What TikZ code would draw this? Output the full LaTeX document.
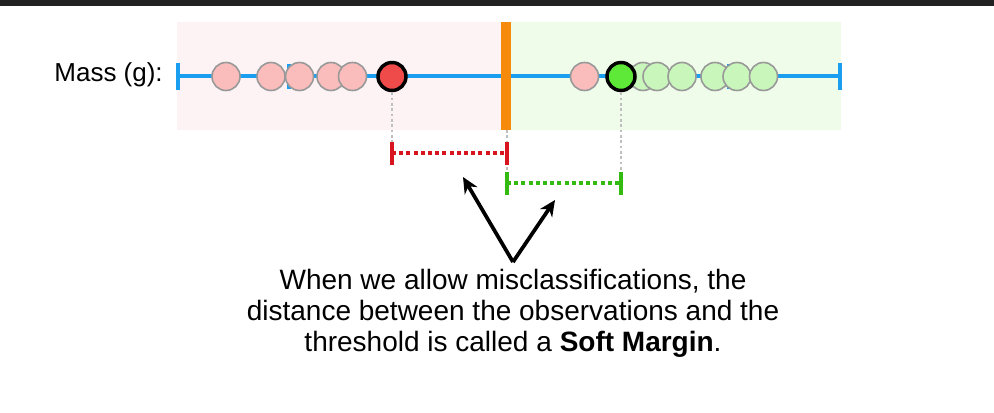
\documentclass[tikz,border=0pt]{standalone}
\usepackage{fontspec}
\setmainfont{Liberation Sans}
\usetikzlibrary{positioning,arrows.meta}
\definecolor{axisblue}{HTML}{1A9FF0}
\definecolor{threshorange}{HTML}{F58A0B}
\definecolor{bgpink}{HTML}{FDF3F4}
\definecolor{bggreen}{HTML}{EFFCEA}
\definecolor{dotpink}{HTML}{FBBCBC}
\definecolor{dotgreen}{HTML}{C9F7BB}
\definecolor{bigred}{HTML}{EF4B4B}
\definecolor{biggreen}{HTML}{5EE838}
\definecolor{marginred}{HTML}{D8141F}
\definecolor{margingreen}{HTML}{33BB11}
\definecolor{topbar}{HTML}{222222}

\begin{document}
\begin{tikzpicture}[x=0.75pt,y=-0.75pt,>={Stealth[length=12pt,width=11pt]},
  obs/.style={circle,draw=black!40,line width=1.2pt,minimum size=21pt,inner sep=0pt},
  pinkobs/.style={obs,fill=dotpink},
  greenobs/.style={obs,fill=dotgreen},
  bigobs/.style={circle,draw=black,line width=2.6pt,minimum size=21pt,inner sep=0pt},
  guide/.style={black!25,line width=1pt,dash pattern=on 2pt off 2pt},
  margin/.style={line width=3pt,dash pattern=on 3pt off 2.4pt},
  endbar/.style={line width=2.8pt},
  pointer/.style={->,line width=2.8pt}]
\useasboundingbox (0,0) rectangle (994,413);
\fill[topbar] (0,0) rectangle (994,6);
\fill[bgpink] (177,22) rectangle (505,130);
\fill[bggreen] (505,22) rectangle (841,130);

\node[anchor=east,inner sep=0pt,font=\fontsize{19.5}{23}\selectfont] (mass) at (163,75) {Mass (g):};

\coordinate (axl) at (178,76.5);
\coordinate (axr) at (840,76.5);
\draw[axisblue,line width=3pt] (axl) -- (axr);
\draw[axisblue,line width=3pt] (178,63) -- (178,90);
\draw[axisblue,line width=3pt] (840,63) -- (840,90);
\draw[axisblue,line width=3pt] (288.5,64) -- (288.5,89);
\draw[axisblue,line width=3pt] (728.5,64) -- (728.5,89);

\node[pinkobs] (r1) at (226,76.5) {};
\node[pinkobs] (r2) at (271,76.5) {};
\node[pinkobs] (r3) at (299.5,76.5) {};
\node[pinkobs] (r4) at (331,76.5) {};
\node[pinkobs] (r5) at (352.5,76.5) {};
\node[pinkobs] (r6) at (584.5,76.5) {};
\node[greenobs] (g1) at (643,76.5) {};
\node[greenobs] (g2) at (657,76.5) {};
\node[greenobs] (g3) at (682,76.5) {};
\node[greenobs] (g4) at (715,76.5) {};
\node[greenobs] (g5) at (737,76.5) {};
\node[greenobs] (g6) at (763.5,76.5) {};
\node[bigobs,fill=bigred] (rbig) at (392,76.5) {};
\node[bigobs,fill=biggreen] (gbig) at (621,76.5) {};

\fill[threshorange] (501,22) rectangle (511,130);
\coordinate (thr) at (507,130);

\coordinate (rm) at (392,153.5);
\coordinate (tm1) at (507,153.5);
\coordinate (tm2) at (507,183.5);
\coordinate (gm) at (621,183.5);
\draw[guide] (rbig.south) -- ([yshift=8]rm);
\draw[guide] (thr) -- ([yshift=8]tm2);
\draw[guide] (gbig.south) -- ([yshift=8]gm);

\draw[marginred,margin] (rm) -- (tm1);
\draw[marginred,endbar] ([yshift=-8.5]rm) -- ([yshift=8.5]rm);
\draw[marginred,endbar] ([yshift=-8.5]tm1) -- ([yshift=8.5]tm1);
\draw[margingreen,margin] (tm2) -- (gm);
\draw[margingreen,endbar] ([yshift=-8.5]tm2) -- ([yshift=8.5]tm2);
\draw[margingreen,endbar] ([yshift=-8.5]gm) -- ([yshift=8.5]gm);

\coordinate (apex) at (513,262);
\draw[pointer] (apex) -- (463,177);
\draw[pointer] (apex) -- (555,200);

\node[align=center,inner sep=0pt,font=\fontsize{21}{23.25}\selectfont] (note) at (513,313)
  {When we allow misclassifications, the\\distance between the observations and the\\threshold is called a \textbf{Soft Margin}.};
\end{tikzpicture}
\end{document}
